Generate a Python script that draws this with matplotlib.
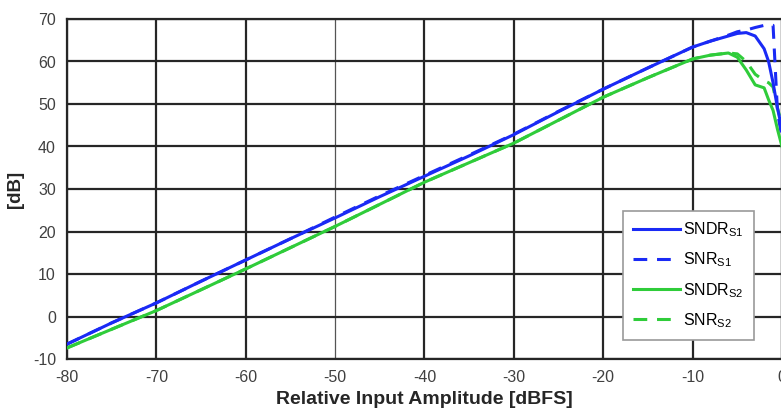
import matplotlib
matplotlib.use('Agg')
import matplotlib.pyplot as plt

# Relative input amplitude [dBFS]
x_main = [-80, -75, -70, -65, -60, -55, -50, -45, -40, -35, -30, -25, -20, -15, -10,
          -8, -6, -5, -4, -3, -2, -1.5, -1, -0.5, 0]

sndr_s1 = [-6.5, -1.5, 3.2, 8.3, 13.3, 18.3, 23.2, 28.2, 33.0, 37.8, 42.8, 48.2, 53.5, 58.5, 63.4,
           64.8, 66.0, 66.6, 66.8, 66.0, 63.0, 60.0, 55.0, 49.0, 44.0]
snr_s1 = [-6.5, -1.5, 3.2, 8.3, 13.3, 18.3, 23.4, 28.4, 33.2, 38.0, 42.9, 48.3, 53.5, 58.5, 63.4,
          64.8, 66.2, 67.0, 67.4, 68.0, 68.5, 68.8, 68.5, 48.0, 42.0]
sndr_s2 = [-7.4, -3.0, 1.4, 6.3, 11.2, 16.2, 21.2, 26.4, 31.6, 36.2, 40.8, 46.2, 51.6, 56.2, 60.6,
           61.5, 62.0, 61.0, 58.0, 54.5, 53.8, 51.0, 48.5, 44.0, 40.0]
snr_s2 = [-7.4, -3.0, 1.4, 6.3, 11.2, 16.2, 21.2, 26.4, 31.6, 36.2, 40.8, 46.2, 51.6, 56.2, 60.6,
          61.5, 62.0, 61.8, 60.0, 57.0, 55.5, 55.0, 54.0, 49.0, 45.0]

x_ticks = [-80, -70, -60, -50, -40, -30, -20, -10, 0]
y_ticks = [-10, 0, 10, 20, 30, 40, 50, 60, 70]

blue = '#1a2af5'
green = '#2fcc3a'

plt.rcParams['font.family'] = ['Liberation Sans', 'DejaVu Sans']
plt.rcParams['mathtext.fontset'] = 'custom'
plt.rcParams['mathtext.rm'] = 'Liberation Sans'
plt.rcParams['mathtext.it'] = 'Liberation Sans'
plt.rcParams['axes.unicode_minus'] = False

fig = plt.figure(figsize=(7.81, 4.11), dpi=100)
ax = fig.add_axes([67 / 781, 1 - 359 / 411, 715 / 781, 340 / 411])

ax.plot(x_main, sndr_s1, color=blue, lw=2.2, label=r'SNDR$_{\mathrm{S1}}$', zorder=4)
ax.plot(x_main, snr_s1, color=blue, lw=2.2, ls=(0, (4.5, 3.2)), label=r'SNR$_{\mathrm{S1}}$', zorder=3)
ax.plot(x_main, sndr_s2, color=green, lw=2.2, label=r'SNDR$_{\mathrm{S2}}$', zorder=4)
ax.plot(x_main, snr_s2, color=green, lw=2.2, ls=(0, (4.5, 3.2)), label=r'SNR$_{\mathrm{S2}}$', zorder=3)

ax.set_xlim(-80, 0)
ax.set_ylim(-10, 70)
ax.set_xticks(x_ticks)
ax.set_yticks(y_ticks)
ax.tick_params(length=0, labelsize=11.5, labelcolor='#404040', pad=8)
ax.grid(True, color='#262626', lw=1.6)
ax.set_axisbelow(True)
for i, gl in enumerate(ax.get_xgridlines()):
    if x_ticks[i] == -50:
        gl.set_linewidth(0.9)
        gl.set_color('#555555')
for s in ax.spines.values():
    s.set_color('#262626')
    s.set_linewidth(1.6)

ax.set_xlabel('Relative Input Amplitude [dBFS]', fontsize=14, fontweight='bold',
              color='#262626', labelpad=4)
ax.set_ylabel('[dB]', fontsize=13.5, fontweight='bold', color='#262626', labelpad=6)

leg = ax.legend(loc='lower right', bbox_to_anchor=(754 / 715 - 67 / 715, 0.057),
                fontsize=11.5, frameon=True, fancybox=False, handlelength=2.95,
                handletextpad=0.2, labelspacing=0.72, borderpad=0.62, borderaxespad=0)
leg.get_frame().set_edgecolor('#999999')
leg.get_frame().set_linewidth(1.2)
leg.get_frame().set_alpha(1)

fig.savefig('out.png', dpi=100)
